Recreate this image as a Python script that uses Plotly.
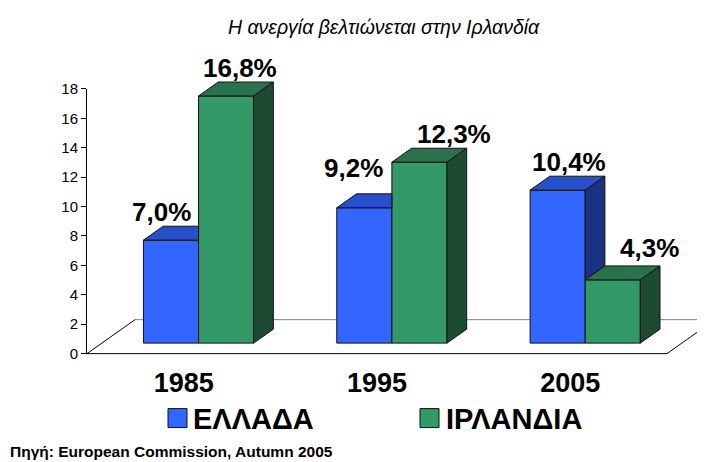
import plotly.graph_objects as go

# ---------------- data ----------------
years = ["1985", "1995", "2005"]
series_names = ["ΕΛΛΑΔΑ", "ΙΡΛΑΝΔΙΑ"]
greece = [7.0, 9.2, 10.4]
ireland = [16.8, 12.3, 4.3]
y_ticks = [0, 2, 4, 6, 8, 10, 12, 14, 16, 18]
title_text = "Η ανεργία βελτιώνεται στην Ιρλανδία"
source_text = "Πηγή: European Commission, Autumn 2005"

# ---------------- style ----------------
FONT = "Liberation Sans, Arial, sans-serif"
FACE_COLORS = [("#3366FF", "#2A4FCC", "#1B3282"),   # front, top, side
               ("#339966", "#28734D", "#1D4A33")]
EDGE = "#111111"
OFF = 8                      # page body margin of the viewer
W, H = 705 - OFF, 462 - OFF
PLOT_L = 87 - OFF
PLOT_R = W
Y0_PX, Y18_PX = 354 - OFF, 89 - OFF
SY = (Y0_PX - Y18_PX) / 18.0          # px per value unit
SX = (667 - 87) / 3.0                 # px per category unit
Y2_MIN, Y2_MAX = -0.5, 22.0
FLOOR_DX, FLOOR_DY = 48 / SX, 34 / SY  # floor depth in axis units
F0, F1 = 0.31, 0.72                    # bar depth span as floor fraction
BAR_W = 0.285
DX0, DY0 = F0 * FLOOR_DX, F0 * FLOOR_DY
DXB, DYB = (F1 - F0) * FLOOR_DX, (F1 - F0) * FLOOR_DY
LABEL_DX = [[-10, -11, 11], [14, 35, 37]]   # px shifts of value labels
LABEL_DY = [[14, 26, 14], [14, 14, 18]]

plot_h = (Y2_MAX - Y2_MIN) * SY
m_b = H - (Y0_PX - Y2_MIN * SY)
m_t = H - m_b - plot_h
plot_w = PLOT_R - PLOT_L
x_max = plot_w / SX

def px_x(px):   # reference-picture pixel -> paper x
    return (px - OFF - PLOT_L) / plot_w

def px_y(py):   # reference-picture pixel -> paper y
    return (H - m_b - (py - OFF)) / plot_h

values = [greece, ireland]
fig = go.Figure()

# front faces as bars
for s, vals in enumerate(values):
    centers = [i + 0.5 - BAR_W + DX0 + s * BAR_W + BAR_W / 2 for i in range(len(years))]
    fig.add_trace(go.Bar(
        x=centers, y=vals, base=DY0, width=BAR_W, name=series_names[s],
        marker=dict(color=FACE_COLORS[s][0], line=dict(color=EDGE, width=1)),
        xaxis="x", yaxis="y2", showlegend=False, hoverinfo="skip"))

# top and side faces
for s, vals in enumerate(values):
    other = values[1 - s]
    top_x, top_y, side_x, side_y = [], [], [], []
    for i, v in enumerate(vals):
        x0 = i + 0.5 - BAR_W + DX0 + s * BAR_W
        x1 = x0 + BAR_W
        y1 = DY0 + v
        if s == 0 and other[i] > v:
            tx = [x0, x1, x1, x0 + DXB, x0]
        else:
            tx = [x0, x1, x1 + DXB, x0 + DXB, x0]
        ty = [y1, y1, y1 + DYB, y1 + DYB, y1]
        top_x += tx + [None]
        top_y += ty + [None]
        lo = 0.0 if s == 1 else max(0.0, other[i])
        if lo < v:
            side_x += [x1, x1 + DXB, x1 + DXB, x1, x1, None]
            side_y += [DY0 + lo, DY0 + lo + DYB, y1 + DYB, y1, DY0 + lo, None]
    fig.add_trace(go.Scatter(x=top_x, y=top_y, mode="lines", fill="toself",
                             fillcolor=FACE_COLORS[s][1], line=dict(color=EDGE, width=1),
                             xaxis="x", yaxis="y2", showlegend=False, hoverinfo="skip"))
    if side_x:
        fig.add_trace(go.Scatter(x=side_x, y=side_y, mode="lines", fill="toself",
                                 fillcolor=FACE_COLORS[s][2], line=dict(color=EDGE, width=1),
                                 xaxis="x", yaxis="y2", showlegend=False, hoverinfo="skip"))

# empty trace so that the value axis subplot exists
fig.add_trace(go.Scatter(x=[None], y=[None], xaxis="x", yaxis="y",
                         showlegend=False, hoverinfo="skip"))

# value labels
for s, vals in enumerate(values):
    for i, v in enumerate(vals):
        x0 = i + 0.5 - BAR_W + DX0 + s * BAR_W
        fig.add_annotation(
            x=x0 + BAR_W / 2, y=DY0 + v + DYB, xref="x", yref="y2",
            text=f"{v:.1f}".replace(".", ",") + "%", showarrow=False,
            xanchor="center", yanchor="middle",
            xshift=LABEL_DX[s][i], yshift=LABEL_DY[s][i],
            font=dict(family=FONT, size=26, color="black", weight="bold"))

# floor (3D base)
n = len(years)
floor = [
    (0, 0, n, 0, "black"),
    (0, 0, FLOOR_DX, FLOOR_DY, "black"),
    (n, 0, n + FLOOR_DX, FLOOR_DY, "black"),
    (FLOOR_DX, FLOOR_DY, n + FLOOR_DX, FLOOR_DY, "#808080"),
]
for xa, ya, xb, yb, c in floor:
    fig.add_shape(type="line", x0=xa, y0=ya, x1=xb, y1=yb, xref="x", yref="y2",
                  line=dict(color=c, width=1), layer="below")

# manual legend
leg_sq = [(168, 187), (420, 439)]
leg_txt = [191, 444]
for s in range(2):
    fig.add_shape(type="rect", xref="paper", yref="paper",
                  x0=px_x(leg_sq[s][0]), x1=px_x(leg_sq[s][1]),
                  y0=px_y(428), y1=px_y(409),
                  fillcolor=FACE_COLORS[s][0], line=dict(color=EDGE, width=1))
    fig.add_annotation(x=px_x(leg_txt[s]), y=px_y(419), xref="paper", yref="paper",
                       text=series_names[s], showarrow=False, xanchor="left", yanchor="middle",
                       font=dict(family=FONT, size=29, color="black", weight="bold"))

# title and source
fig.add_annotation(x=px_x(384), y=px_y(27), xref="paper", yref="paper", text=title_text,
                   showarrow=False, xanchor="center", yanchor="middle",
                   font=dict(family=FONT, size=19.5, color="black", style="italic"))
fig.add_annotation(x=px_x(OFF), y=px_y(452), xref="paper", yref="paper", text=source_text,
                   showarrow=False, xanchor="left", yanchor="middle",
                   font=dict(family=FONT, size=15.5, color="black", weight="bold"))

fig.update_layout(
    width=W, height=H, template="none",
    paper_bgcolor="white", plot_bgcolor="white",
    margin=dict(l=PLOT_L, r=W - PLOT_R, t=m_t, b=m_b, pad=0, autoexpand=False),
    showlegend=False,
    xaxis=dict(range=[0, x_max], anchor="y", showgrid=False, zeroline=False,
               showline=False, tickmode="array",
               tickvals=[i + 0.5 for i in range(n)], ticktext=years, ticks="",
               ticklabelstandoff=10,
               tickfont=dict(family=FONT, size=27, color="black", weight="bold"),
               minor=dict(tickmode="array", tickvals=list(range(n + 1)), ticks="outside",
                          ticklen=5, tickcolor="black", tickwidth=1, showgrid=False),
               automargin=False, fixedrange=True),
    yaxis=dict(range=[0, 18], domain=[(0 - Y2_MIN) / (Y2_MAX - Y2_MIN),
                                       (18 - Y2_MIN) / (Y2_MAX - Y2_MIN)],
               anchor="x", tickmode="array", tickvals=y_ticks, ticks="outside",
               ticklen=5, tickcolor="black", showline=True, linecolor="black",
               linewidth=1, showgrid=False, zeroline=False,
               tickfont=dict(family=FONT, size=15, color="black"),
               automargin=False, fixedrange=True),
    yaxis2=dict(range=[Y2_MIN, Y2_MAX], domain=[0, 1], anchor="x", visible=False,
                showgrid=False, zeroline=False, fixedrange=True),
)

fig.write_html("out.html")
